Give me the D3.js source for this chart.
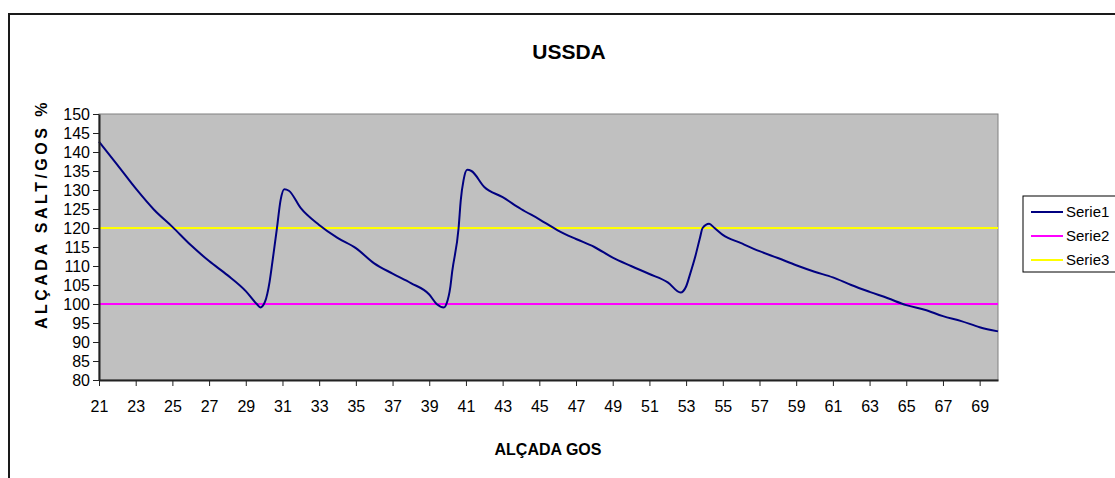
<!DOCTYPE html>
<html>
<head>
<meta charset="utf-8">
<script src="https://cdn.jsdelivr.net/npm/d3@7"></script>
<style>
  html, body { margin: 0; padding: 0; background: #fff; }
  svg { display: block; }
  text { font-family: "Liberation Sans", Arial, sans-serif; fill: #000; }
</style>
</head>
<body>
<svg id="chart" width="1115" height="478"></svg>
<script>
// ---- data ----
const title = "USSDA";
const xTitle = "ALÇADA GOS";
const yTitle = "ALÇADA SALT/GOS %";
const seriesNames = ["Serie1", "Serie2", "Serie3"];
const xTickValues = [21,23,25,27,29,31,33,35,37,39,41,43,45,47,49,51,53,55,57,59,61,63,65,67,69];
const yTickValues = [80,85,90,95,100,105,110,115,120,125,130,135,140,145,150];
const serie1X = [21,22,23,24,25,26,27,28,29,29.6,29.8,30.05,30.3,30.45,30.7,30.9,31.1,31.35,32,33,34,35,36,37,38,39,39.4,39.8,39.95,40.15,40.25,40.6,40.72,40.87,41.07,41.3,42,43,44,45,46,47,48,49,50,51,52,52.7,53,53.2,53.5,53.75,53.9,54.25,54.55,55,56,57,58,59,60,61,62,63,64,65,66,67,68,69,70];
const serie1Y = [142.7,136.6,130.4,124.8,120.3,115.5,111.3,107.6,103.4,100,99.1,100.6,105.9,111,120,127.4,130.2,129.8,125.2,120.8,117.4,114.7,110.7,108,105.5,102.5,100,99.1,100.2,104.5,108.5,120,127.4,132.6,135.3,135,130.8,128.1,125,122.3,119.4,117.1,115,112.2,110,107.9,105.7,103,104.6,107.6,112.5,117.3,120,121.1,120,118.2,116,113.9,112.1,110.2,108.5,107,105,103.2,101.5,99.7,98.5,96.8,95.5,93.9,92.8];
const serie2Value = 100;
const serie3Value = 120;
const colors = ["#000080", "#FF00FF", "#FFFF00"];

// ---- layout ----
const svg = d3.select("#chart");
const L = 99, T = 114, R = 998, B = 380;

// outer chart border (cropped on right and bottom)
svg.append("rect").attr("x", 9).attr("y", 14).attr("width", 1200).attr("height", 600)
  .attr("fill", "none").attr("stroke", "#1a1a1a").attr("stroke-width", 2);

const x = d3.scaleLinear().domain([21, 70]).range([L, R]);
const y = d3.scaleLinear().domain([80, 150]).range([B, T]);

// plot area
svg.append("rect").attr("x", L).attr("y", T).attr("width", R - L).attr("height", B - T)
  .attr("fill", "#C0C0C0").attr("stroke", "#808080").attr("stroke-width", 1);

// reference lines
const flat = (v) => [{x: 21, y: v}, {x: 70, y: v}];
const line = d3.line().x(d => x(d.x)).y(d => y(d.y));
svg.append("path").attr("d", line(flat(serie3Value))).attr("stroke", colors[2]).attr("stroke-width", 2).attr("fill", "none");
svg.append("path").attr("d", line(flat(serie2Value))).attr("stroke", colors[1]).attr("stroke-width", 2).attr("fill", "none");

// main series
const pts = serie1X.map((v, i) => ({x: v, y: serie1Y[i]}));
svg.append("path").attr("d", d3.line().x(d => x(d.x)).y(d => y(d.y)).curve(d3.curveMonotoneX)(pts))
  .attr("stroke", colors[0]).attr("stroke-width", 2).attr("fill", "none").attr("stroke-linejoin", "round");

// axes
const yAxis = d3.axisLeft(y).tickValues(yTickValues).tickSize(6).tickPadding(3).tickSizeOuter(0);
const gy = svg.append("g").attr("transform", `translate(${L},0)`).call(yAxis);
gy.selectAll("text").style("font-size", "16px").attr("font-family", "Liberation Sans, Arial, sans-serif");
gy.select(".domain").attr("stroke", "#222").attr("stroke-width", 2);
gy.selectAll(".tick line").attr("stroke", "#222");

const xAxis = d3.axisBottom(x).tickValues(xTickValues).tickFormat(d3.format("d")).tickSize(6).tickPadding(15).tickSizeOuter(0);
const gx = svg.append("g").attr("transform", `translate(0,${B})`).call(xAxis);
gx.selectAll("text").style("font-size", "16px").attr("font-family", "Liberation Sans, Arial, sans-serif");
gx.select(".domain").attr("stroke", "#222").attr("stroke-width", 2);
gx.selectAll(".tick line").attr("stroke", "#222");

// titles
svg.append("text").attr("x", 569).attr("y", 59).attr("text-anchor", "middle")
  .style("font-size", "21px").style("font-weight", "bold").text(title);
svg.append("text").attr("x", 548).attr("y", 455).attr("text-anchor", "middle")
  .style("font-size", "16px").style("font-weight", "bold").text(xTitle);
svg.append("text").attr("transform", "translate(47,214) rotate(-90)").attr("text-anchor", "middle")
  .style("font-size", "16px").style("font-weight", "bold").style("letter-spacing", "3.5px").text(yTitle);

// legend
const lg = svg.append("g");
lg.append("rect").attr("x", 1023).attr("y", 196).attr("width", 120).attr("height", 76)
  .attr("fill", "#fff").attr("stroke", "#000").attr("stroke-width", 1);
seriesNames.forEach((name, i) => {
  const yy = 212 + i * 24;
  lg.append("line").attr("x1", 1031).attr("x2", 1063).attr("y1", yy).attr("y2", yy)
    .attr("stroke", colors[i]).attr("stroke-width", 2);
  lg.append("text").attr("x", 1066).attr("y", yy + 5).style("font-size", "15px").text(name);
});
</script>
</body>
</html>
